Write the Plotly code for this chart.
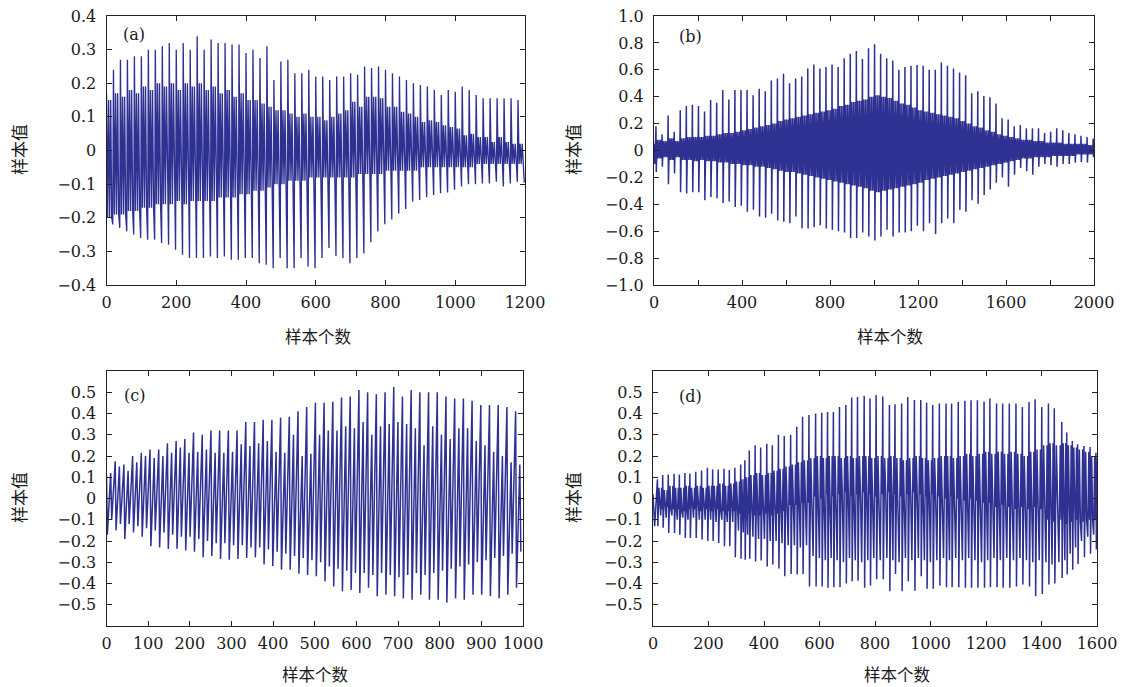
import plotly.graph_objects as go

# ---------------- data ----------------
# Each pitch cycle: tall peak (hi), deep trough (lo), inner band levels.
# Panel (a): 1200 samples, pitch period ~20 samples
a_period = 20
a_hi = [0.17, 0.24, 0.27, 0.27, 0.28, 0.28, 0.30, 0.30, 0.31, 0.32,
        0.30, 0.32, 0.30, 0.34, 0.30, 0.33, 0.32, 0.32, 0.315, 0.315,
        0.29, 0.30, 0.275, 0.31, 0.21, 0.265, 0.27, 0.23, 0.23, 0.24,
        0.22, 0.22, 0.21, 0.22, 0.22, 0.23, 0.225, 0.25, 0.245, 0.25,
        0.24, 0.23, 0.22, 0.21, 0.20, 0.195, 0.19, 0.18, 0.165, 0.18,
        0.175, 0.19, 0.18, 0.165, 0.155, 0.155, 0.155, 0.155, 0.155, 0.15]
a_lo = [-0.22, -0.23, -0.24, -0.25, -0.26, -0.265, -0.265, -0.275, -0.28, -0.295,
        -0.31, -0.32, -0.32, -0.32, -0.315, -0.32, -0.315, -0.325, -0.325, -0.32,
        -0.32, -0.335, -0.34, -0.35, -0.32, -0.35, -0.35, -0.32, -0.345, -0.35,
        -0.32, -0.29, -0.314, -0.32, -0.335, -0.32, -0.306, -0.273, -0.241, -0.219,
        -0.205, -0.187, -0.174, -0.152, -0.147, -0.139, -0.132, -0.127, -0.125, -0.117,
        -0.107, -0.10, -0.10, -0.098, -0.098, -0.093, -0.107, -0.098, -0.093, -0.095]
a_sub_hi = [0.15, 0.17, 0.16, 0.18, 0.17, 0.19, 0.18, 0.20, 0.19, 0.20,
            0.18, 0.20, 0.19, 0.20, 0.18, 0.19, 0.17, 0.18, 0.16, 0.17,
            0.15, 0.15, 0.14, 0.13, 0.12, 0.12, 0.11, 0.10, 0.11, 0.10,
            0.10, 0.09, 0.10, 0.11, 0.12, 0.145, 0.13, 0.16, 0.16, 0.155,
            0.13, 0.13, 0.115, 0.11, 0.10, 0.085, 0.09, 0.085, 0.075, 0.07,
            0.065, 0.045, 0.05, 0.04, 0.04, 0.025, 0.04, 0.025, 0.02, 0.02]
a_sub_lo = [-0.20, -0.19, -0.19, -0.18, -0.18, -0.17, -0.17, -0.16, -0.16, -0.16,
            -0.15, -0.16, -0.15, -0.15, -0.15, -0.15, -0.14, -0.14, -0.14, -0.13,
            -0.13, -0.12, -0.12, -0.11, -0.10, -0.10, -0.09, -0.09, -0.09, -0.08,
            -0.08, -0.08, -0.08, -0.08, -0.08, -0.08, -0.07, -0.07, -0.07, -0.07,
            -0.06, -0.06, -0.06, -0.06, -0.06, -0.05, -0.05, -0.05, -0.05, -0.05,
            -0.05, -0.05, -0.05, -0.04, -0.04, -0.04, -0.04, -0.04, -0.04, -0.04]

# Panel (b): 2000 samples, pitch period ~27.6 samples
b_first = 9
b_period = 27.6
b_lead_x = [0, 4]
b_lead_y = [0.05, -0.10]
b_hi = [0.18, 0.12, 0.26, 0.14, 0.30, 0.33, 0.34, 0.33, 0.29, 0.375,
        0.355, 0.45, 0.38, 0.45, 0.45, 0.45, 0.41, 0.46, 0.44, 0.52,
        0.535, 0.57, 0.50, 0.535, 0.55, 0.61, 0.64, 0.61, 0.62, 0.64,
        0.62, 0.685, 0.72, 0.74, 0.68,
        0.76, 0.79, 0.72, 0.685, 0.67, 0.60, 0.62, 0.63, 0.635, 0.63,
        0.60, 0.60, 0.655, 0.63, 0.61, 0.58, 0.56, 0.425, 0.44, 0.405,
        0.395, 0.35, 0.24, 0.23, 0.18, 0.19, 0.165, 0.165, 0.165, 0.13,
        0.14, 0.165, 0.15, 0.13, 0.12, 0.11, 0.10, 0.09]
b_lo = [-0.16, -0.12, -0.25, -0.17, -0.31, -0.32, -0.31, -0.31, -0.37, -0.345,
        -0.355, -0.39, -0.38, -0.42, -0.41, -0.455, -0.44, -0.49, -0.50, -0.47,
        -0.52, -0.53, -0.54, -0.49, -0.58, -0.58, -0.57, -0.555, -0.58, -0.59,
        -0.60, -0.61, -0.65, -0.65, -0.61,
        -0.64, -0.67, -0.64, -0.59, -0.64, -0.61, -0.61, -0.60, -0.56, -0.60,
        -0.54, -0.62, -0.54, -0.505, -0.54, -0.44, -0.455, -0.37, -0.395, -0.33,
        -0.29, -0.24, -0.20, -0.27, -0.18, -0.13, -0.155, -0.18, -0.12, -0.10,
        -0.11, -0.12, -0.10, -0.10, -0.09, -0.085, -0.09, -0.05]
b_sub_hi = [0.08, 0.07, 0.09, 0.07, 0.09, 0.10, 0.10, 0.10, 0.11, 0.11,
            0.12, 0.13, 0.13, 0.14, 0.15, 0.16, 0.17, 0.18, 0.19, 0.20,
            0.22, 0.23, 0.24, 0.25, 0.26, 0.27, 0.28, 0.29, 0.30, 0.31,
            0.33, 0.34, 0.36, 0.37, 0.38, 0.40, 0.41, 0.40, 0.39, 0.37,
            0.35, 0.34, 0.32, 0.30, 0.29, 0.28, 0.27, 0.26, 0.25, 0.24,
            0.22, 0.20, 0.18, 0.17, 0.15, 0.14, 0.12, 0.11, 0.10, 0.09,
            0.08, 0.08, 0.07, 0.07, 0.06, 0.06, 0.06, 0.05, 0.05, 0.05,
            0.05, 0.04, 0.04]
b_sub_lo = [-0.06, -0.05, -0.07, -0.05, -0.07, -0.07, -0.08, -0.07, -0.08, -0.08,
            -0.09, -0.09, -0.10, -0.10, -0.11, -0.11, -0.12, -0.12, -0.13, -0.14,
            -0.15, -0.16, -0.16, -0.17, -0.18, -0.19, -0.20, -0.21, -0.22, -0.23,
            -0.24, -0.25, -0.26, -0.27, -0.28, -0.30, -0.31, -0.30, -0.29, -0.28,
            -0.27, -0.26, -0.25, -0.24, -0.22, -0.21, -0.20, -0.19, -0.18, -0.17,
            -0.16, -0.15, -0.14, -0.13, -0.12, -0.11, -0.10, -0.09, -0.08, -0.07,
            -0.06, -0.06, -0.05, -0.05, -0.05, -0.04, -0.04, -0.04, -0.04, -0.03,
            -0.03, -0.03, -0.03]

# Panel (c): 1000 samples, pitch period ~20.9 samples (two peaks per cycle)
c_period = 20.9
c_hi = [0.11, 0.175, 0.16, 0.20, 0.215, 0.23, 0.23, 0.26, 0.27, 0.28,
        0.31, 0.30, 0.32, 0.32, 0.32, 0.32, 0.36, 0.36, 0.37, 0.37,
        0.38, 0.385, 0.41, 0.43, 0.45, 0.45, 0.455, 0.475, 0.48, 0.51,
        0.50, 0.49, 0.50, 0.525, 0.48, 0.51, 0.50, 0.50, 0.50, 0.48,
        0.47, 0.47, 0.46, 0.44, 0.44, 0.44, 0.43, 0.41]
c_lo = [-0.17, -0.15, -0.19, -0.16, -0.18, -0.225, -0.23, -0.237, -0.236, -0.245,
        -0.25, -0.277, -0.27, -0.285, -0.288, -0.285, -0.28, -0.277, -0.31, -0.318,
        -0.335, -0.335, -0.354, -0.36, -0.366, -0.39, -0.414, -0.437, -0.43, -0.445,
        -0.42, -0.46, -0.453, -0.46, -0.47, -0.476, -0.453, -0.476, -0.476, -0.49,
        -0.47, -0.476, -0.453, -0.453, -0.46, -0.47, -0.453, -0.42]
c_sub_hi = [0.12, 0.15, 0.13, 0.17, 0.20, 0.19, 0.20, 0.215, 0.24, 0.215,
            0.22, 0.23, 0.215, 0.215, 0.22, 0.255, 0.247, 0.26, 0.27, 0.22,
            0.215, 0.30, 0.20, 0.21, 0.30, 0.32, 0.32, 0.34, 0.33, 0.36,
            0.30, 0.34, 0.35, 0.36, 0.35, 0.33, 0.25, 0.34, 0.30, 0.28,
            0.33, 0.33, 0.27, 0.25, 0.22, 0.20, 0.17, 0.16]
c_sub_lo = [-0.10, -0.12, -0.12, -0.13, -0.14, -0.15, -0.16, -0.17, -0.18, -0.18,
            -0.19, -0.20, -0.21, -0.21, -0.22, -0.22, -0.23, -0.23, -0.24, -0.25,
            -0.26, -0.27, -0.28, -0.29, -0.30, -0.32, -0.33, -0.34, -0.35, -0.35,
            -0.36, -0.35, -0.36, -0.37, -0.36, -0.35, -0.36, -0.35, -0.34, -0.33,
            -0.32, -0.31, -0.30, -0.29, -0.28, -0.27, -0.26, -0.25]

# Panel (d): 1600 samples, peak positions
d_lead_x = [0, 6]
d_lead_y = [0.02, -0.13]
d_peaks = [16, 35, 55, 76, 95, 115, 133, 154, 175, 196,
           215, 235, 256, 275, 295, 316, 331, 347, 368, 388,
           410, 430, 452, 473, 496, 518, 539, 562, 586, 608,
           629, 650, 672, 695, 716, 737, 761, 782, 804,
           828, 852, 872, 896, 918, 942, 965, 986, 1008, 1032,
           1056, 1076, 1100, 1124, 1146, 1169, 1193, 1214, 1238, 1260,
           1284, 1308, 1331, 1355, 1377, 1401, 1425, 1446, 1473, 1491,
           1511, 1530, 1553, 1575, 1596]
d_hi = [0.09, 0.11, 0.113, 0.116, 0.113, 0.12, 0.118, 0.126, 0.132, 0.145,
        0.137, 0.137, 0.14, 0.134, 0.145, 0.16, 0.18, 0.226, 0.25, 0.24,
        0.258, 0.25, 0.30, 0.294, 0.30, 0.338, 0.385, 0.393, 0.40, 0.404,
        0.407, 0.407, 0.43, 0.44, 0.475, 0.478, 0.483, 0.47, 0.487,
        0.48, 0.44, 0.443, 0.447, 0.478, 0.464, 0.464, 0.45, 0.44, 0.447,
        0.447, 0.447, 0.454, 0.46, 0.462, 0.462, 0.456, 0.47, 0.447, 0.447,
        0.447, 0.447, 0.43, 0.454, 0.467, 0.43, 0.447, 0.425, 0.36, 0.31,
        0.27, 0.255, 0.247, 0.242, 0.215]
d_lo = [-0.13, -0.138, -0.162, -0.162, -0.17, -0.186, -0.186, -0.186, -0.193, -0.20,
        -0.20, -0.209, -0.225, -0.225, -0.277, -0.283, -0.288, -0.283, -0.296, -0.292,
        -0.32, -0.311, -0.33, -0.366, -0.355, -0.358, -0.355, -0.414, -0.414, -0.414,
        -0.42, -0.418, -0.418, -0.40, -0.39, -0.387, -0.42, -0.41, -0.38,
        -0.38, -0.437, -0.355, -0.437, -0.39, -0.434, -0.366, -0.425, -0.425, -0.41,
        -0.418, -0.418, -0.418, -0.42, -0.42, -0.42, -0.42, -0.418, -0.418, -0.42,
        -0.42, -0.414, -0.405, -0.414, -0.46, -0.45, -0.405, -0.40, -0.374, -0.358,
        -0.335, -0.308, -0.277, -0.26, -0.24]
d_sub_hi = [0.05, 0.04, 0.06, 0.05, 0.05, 0.06, 0.05, 0.06, 0.05, 0.06,
            0.06, 0.07, 0.06, 0.07, 0.08, 0.09, 0.10, 0.11, 0.12, 0.11,
            0.12, 0.13, 0.14, 0.15, 0.16, 0.17, 0.18, 0.19, 0.20, 0.19,
            0.20, 0.20, 0.19, 0.20, 0.19, 0.20, 0.20, 0.19, 0.20, 0.19,
            0.20, 0.19, 0.18, 0.19, 0.20, 0.19, 0.18, 0.19, 0.20, 0.20,
            0.19, 0.20, 0.21, 0.20, 0.21, 0.22, 0.21, 0.22, 0.21, 0.22,
            0.21, 0.20, 0.22, 0.23, 0.25, 0.26, 0.25, 0.26, 0.25, 0.24,
            0.23, 0.22, 0.20, 0.19]
d_sub_lo = [-0.05, -0.04, -0.05, -0.05, -0.06, -0.05, -0.05, -0.06, -0.05, -0.06,
            -0.05, -0.06, -0.06, -0.06, -0.07, -0.08, -0.07, -0.08, -0.08, -0.07,
            -0.08, -0.07, -0.06, -0.03, -0.03, -0.02, -0.02, 0.01, 0.00, 0.02,
            0.01, 0.02, 0.03, 0.01, 0.02, 0.03, 0.02, 0.01, 0.02, 0.03,
            0.02, 0.01, 0.02, 0.03, 0.02, 0.01, 0.02, 0.01, 0.00, 0.01,
            0.00, -0.01, 0.00, -0.01, -0.02, -0.02, -0.04, -0.03, -0.04, -0.05,
            -0.04, -0.05, -0.04, -0.05, -0.10, -0.11, -0.10, -0.12, -0.11, -0.10,
            -0.11, -0.10, -0.10, -0.09]
d_mid_lo = [-0.08, -0.09, -0.08, -0.10, -0.09, -0.10, -0.09, -0.10, -0.10, -0.10,
            -0.11, -0.10, -0.11, -0.11, -0.15, -0.16, -0.17, -0.18, -0.19, -0.19,
            -0.20, -0.20, -0.21, -0.22, -0.22, -0.23, -0.22, -0.27, -0.28, -0.29,
            -0.28, -0.29, -0.30, -0.28, -0.29, -0.30, -0.29, -0.28, -0.29, -0.28,
            -0.29, -0.30, -0.28, -0.29, -0.28, -0.29, -0.30, -0.29, -0.28, -0.29,
            -0.28, -0.29, -0.28, -0.29, -0.30, -0.29, -0.28, -0.29, -0.28, -0.29,
            -0.28, -0.29, -0.30, -0.29, -0.30, -0.31, -0.30, -0.29, -0.26, -0.23,
            -0.20, -0.18, -0.17, -0.15]

# tick labels
a_xticks = [0, 200, 400, 600, 800, 1000, 1200]
a_yticks = [-0.4, -0.3, -0.2, -0.1, 0, 0.1, 0.2, 0.3, 0.4]
a_ylabels = ["\u22120.4", "\u22120.3", "\u22120.2", "\u22120.1", "0", "0.1", "0.2", "0.3", "0.4"]
b_xticks = [0, 200, 400, 600, 800, 1000, 1200, 1400, 1600, 1800, 2000]
b_xlabels = ["0", "", "400", "", "800", "", "1200", "", "1600", "", "2000"]
b_yticks = [-1.0, -0.8, -0.6, -0.4, -0.2, 0, 0.2, 0.4, 0.6, 0.8, 1.0]
b_ylabels = ["\u22121.0", "\u22120.8", "\u22120.6", "\u22120.4", "\u22120.2", "0",
             "0.2", "0.4", "0.6", "0.8", "1.0"]
c_xticks = [0, 100, 200, 300, 400, 500, 600, 700, 800, 900, 1000]
d_xticks = [0, 200, 400, 600, 800, 1000, 1200, 1400, 1600]
cd_yticks = [-0.5, -0.4, -0.3, -0.2, -0.1, 0, 0.1, 0.2, 0.3, 0.4, 0.5]
cd_ylabels = ["\u22120.5", "\u22120.4", "\u22120.3", "\u22120.2", "\u22120.1", "0",
              "0.1", "0.2", "0.3", "0.4", "0.5"]

# ---------------- build waveform vertices ----------------
def cycles(starts, template, arrays, lead_x=(), lead_y=()):
    xs, ys = list(lead_x), list(lead_y)
    n = len(starts)
    for i in range(n):
        s = starts[i]
        p = (starts[i + 1] - s) if i + 1 < n else (s - starts[i - 1])
        for frac, key in template:
            xs.append(s + frac * p)
            ys.append(arrays[key][i])
    return xs, ys

a_starts = [a_period * i for i in range(len(a_hi))]
b_starts = [b_first + b_period * i for i in range(len(b_hi))]
c_starts = [c_period * i for i in range(len(c_hi))]

ax_, ay_ = cycles(a_starts,
                  [(0, "hi"), (0.15, "slo"), (0.3, "shi"), (0.45, "slo"),
                   (0.6, "shi"), (0.75, "slo"), (0.9, "lo")],
                  {"hi": a_hi, "lo": a_lo, "shi": a_sub_hi, "slo": a_sub_lo})
bx_, by_ = cycles(b_starts,
                  [(0, "hi"), (0.05, "lo"), (0.2, "shi"), (0.35, "slo"),
                   (0.5, "shi"), (0.65, "slo"), (0.8, "shi"), (0.92, "slo")],
                  {"hi": b_hi, "lo": b_lo, "shi": b_sub_hi, "slo": b_sub_lo},
                  b_lead_x, b_lead_y)
cx_, cy_ = cycles(c_starts,
                  [(0, "hi"), (0.1, "lo"), (0.48, "shi"), (0.6, "slo")],
                  {"hi": c_hi, "lo": c_lo, "shi": c_sub_hi, "slo": c_sub_lo})
dx_, dy_ = cycles(d_peaks,
                  [(0, "hi"), (0.08, "lo"), (0.28, "shi"), (0.44, "slo"),
                   (0.62, "mlo"), (0.8, "shi"), (0.92, "slo")],
                  {"hi": d_hi, "lo": d_lo, "shi": d_sub_hi, "slo": d_sub_lo,
                   "mlo": d_mid_lo},
                  d_lead_x, d_lead_y)

# ---------------- figure ----------------
W, H = 1123, 687
LINE = "#2E3192"
TXT = "#1a1a1a"
SERIF = "DejaVu Serif"
CJK = "Noto Sans CJK SC"

def px_x(x):
    return x / W

def px_y(y):
    return 1 - y / H

fig = go.Figure()
for xs, ys, xa, ya, lw in [(ax_, ay_, "x", "y", 1.35), (bx_, by_, "x2", "y2", 1.5),
                           (cx_, cy_, "x3", "y3", 1.5), (dx_, dy_, "x4", "y4", 1.5)]:
    fig.add_trace(go.Scatter(x=xs, y=ys, mode="lines", xaxis=xa, yaxis=ya,
                             line=dict(color=LINE, width=lw), showlegend=False,
                             hoverinfo="skip"))

common = dict(showline=True, linecolor="#222", linewidth=1, mirror="ticks",
              ticks="inside", ticklen=5, tickcolor="#222", tickwidth=1,
              showgrid=False, zeroline=False, automargin=False,
              tickfont=dict(family=SERIF, size=16, color=TXT))

fig.update_layout(
    width=W, height=H, autosize=False, margin=dict(l=0, r=0, t=0, b=0, pad=0),
    paper_bgcolor="white", plot_bgcolor="white", showlegend=False,
    xaxis=dict(domain=[px_x(106.5), px_x(525)], anchor="y", range=[0, 1200],
               tickvals=a_xticks, ticktext=[str(v) for v in a_xticks],
               ticklabelstandoff=3, **common),
    yaxis=dict(domain=[px_y(285), px_y(16)], anchor="x", range=[-0.4, 0.4],
               tickvals=a_yticks, ticktext=a_ylabels, ticklabelstandoff=6, **common),
    xaxis2=dict(domain=[px_x(654), px_x(1094)], anchor="y2", range=[0, 2000],
                tickvals=b_xticks, ticktext=b_xlabels, ticklabelstandoff=3, **common),
    yaxis2=dict(domain=[px_y(285), px_y(16)], anchor="x2", range=[-1, 1],
                tickvals=b_yticks, ticktext=b_ylabels, ticklabelstandoff=6, **common),
    xaxis3=dict(domain=[px_x(106.5), px_x(523)], anchor="y3", range=[0, 1000],
                tickvals=c_xticks, ticktext=[str(v) for v in c_xticks],
                ticklabelstandoff=3, **common),
    yaxis3=dict(domain=[px_y(626), px_y(371)], anchor="x3", range=[-0.6, 0.6],
                tickvals=cd_yticks, ticktext=cd_ylabels, ticklabelstandoff=6, **common),
    xaxis4=dict(domain=[px_x(653), px_x(1097)], anchor="y4", range=[0, 1600],
                tickvals=d_xticks, ticktext=[str(v) for v in d_xticks],
                ticklabelstandoff=3, **common),
    yaxis4=dict(domain=[px_y(626), px_y(371)], anchor="x4", range=[-0.6, 0.6],
                tickvals=cd_yticks, ticktext=cd_ylabels, ticklabelstandoff=6, **common),
)

ann = []
for label, x, y in [("(a)", 134, 35), ("(b)", 690, 36), ("(c)", 134, 395), ("(d)", 690, 396)]:
    ann.append(dict(text=label, x=px_x(x), y=px_y(y), xref="paper", yref="paper",
                    showarrow=False, xanchor="center", yanchor="middle",
                    font=dict(family=SERIF, size=16, color=TXT)))
for x, y in [(18, 150), (572, 150), (18, 498), (572, 498)]:
    ann.append(dict(text="样本值", x=px_x(x), y=px_y(y), xref="paper", yref="paper",
                    showarrow=False, textangle=-90, xanchor="center", yanchor="middle",
                    font=dict(family=CJK, size=17, color=TXT)))
for x, y in [(318, 336), (890, 336), (315, 674), (897, 674)]:
    ann.append(dict(text="样本个数", x=px_x(x), y=px_y(y), xref="paper", yref="paper",
                    showarrow=False, xanchor="center", yanchor="middle", borderpad=0,
                    font=dict(family=CJK, size=16.5, color=TXT)))
fig.update_layout(annotations=ann)

fig.write_html("out.html")
